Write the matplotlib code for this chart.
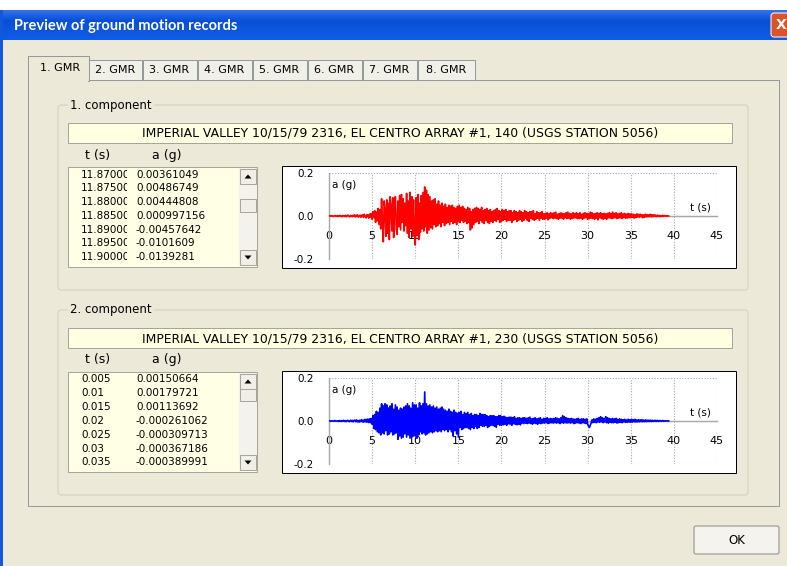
import numpy as np
import matplotlib
matplotlib.use("Agg")
import matplotlib.pyplot as plt
from matplotlib.patches import Rectangle, FancyBboxPatch, Polygon
from matplotlib.transforms import Bbox

# ---------------- data ----------------
DT = 0.1  # s, sampling of the values
# accelerations, in milli-g, one row per second
acc_140_mg = [
    0, 1, -1, 2, 0, -2, 1, 2, -1, 0,
    2, -2, 1, 3, -1, -3, 2, 1, -2, 3,
    -3, 2, 4, -2, -4, 3, 1, -3, 4, -2,
    5, -4, 2, 6, -5, -2, 4, -6, 3, 5,
    -6, 8, -3, -9, 7, 4, -10, 9, -6, 12,
    -15, 20, -8, 25, -30, 18, -22, 35, -40, 30,
    -60, 80, -45, -120, 70, 30, -95, 75, -80, 60,
    -110, 90, 45, -70, 85, -100, 40, 90, -60, -85,
    70, -50, 95, -65, 100, -30, 80, -70, 60, -45,
    105, -80, 70, -100, 110, -60, 90, -95, 75, -70,
    -135, 85, -90, 100, -110, 60, -75, 95, -60, 110,
    -70, 135, -50, 120, -80, 100, -65, 90, -55, 70,
    -60, 75, -40, 80, -50, 55, -45, 70, -35, 50,
    -50, 60, -30, 45, -45, 55, -35, 40, -30, 50,
    -40, 45, -25, 50, -35, 40, -30, 35, -40, 45,
    -25, 50, -30, 40, -20, 45, -30, 35, -25, 30,
    -35, 40, -30, 35, -65, 20, -55, 30, -40, 35,
    -30, 40, -25, 35, -35, 30, -20, 40, -30, 25,
    -35, 30, -20, 35, -30, 25, -35, 30, -25, 20,
    -30, 25, -20, 30, -25, 35, -15, 25, -30, 20,
    -25, 30, -20, 25, -15, 30, -25, 20, -20, 25,
    -20, 25, -30, 15, -20, 25, -15, 20, -25, 15,
    -20, 25, -15, 20, -25, 15, -20, 25, -10, 20,
    -20, 15, -25, 20, -10, 20, -15, 25, -20, 10,
    -15, 20, -10, 15, -20, 15, -10, 20, -15, 10,
    -15, 12, -10, 15, -18, 10, -12, 15, -8, 12,
    -12, 15, -10, 18, -12, 8, -15, 12, -10, 15,
    -10, 12, -15, 10, -8, 15, -12, 18, -10, 12,
    -15, 10, -12, 15, -10, 12, -8, 15, -12, 10,
    -12, 15, -10, 8, -15, 12, -10, 15, -8, 12,
    -15, 10, -12, 18, -10, 15, -12, 10, -15, 12,
    -10, 15, -18, 12, -8, 15, -12, 10, -15, 12,
    -12, 10, -15, 12, -8, 15, -10, 12, -12, 18,
    -10, 12, -8, 15, -12, 10, -10, 12, -8, 15,
    -12, 10, -8, 12, -10, 8, -10, 12, -8, 10,
    -8, 10, -6, 8, -10, 6, -8, 10, -5, 8,
    -6, 8, -4, 6, -8, 5, -6, 8, -4, 6,
    -4, 6, -3, 8, -4, 5, -3, 6, -2, 4,
    -3, 4, -2, 3, -3, 2, -2, 3, -1, 2,
    -1, 2, -1, 1, 0,
]
acc_230_mg = [
    0, 1, -1, 1, 0, -1, 1, 2, -1, 0,
    1, -2, 2, -1, 2, -2, 1, 3, -2, 2,
    -3, 2, 3, -2, -3, 4, -2, 3, -4, 3,
    4, -3, 5, -4, 2, -5, 4, -3, 6, -4,
    -5, 7, -4, 8, -6, 9, -7, 10, -8, 12,
    -15, 25, -35, 30, -40, 45, -50, 40, -55, 60,
    -65, 80, -55, 70, -60, 80, -45, 75, -65, 60,
    -60, 70, -50, 80, -65, 55, -60, 75, -55, 65,
    -85, 50, -70, 60, -80, 55, -75, 65, -60, 70,
    -75, 80, -65, 70, -80, 60, -75, 85, -70, 75,
    -70, 75, -80, 60, -65, 85, -50, 70, -60, 80,
    -55, 135, -65, 80, -60, 70, -55, 75, -50, 65,
    -55, 70, -50, 60, -45, 65, -50, 55, -45, 60,
    -50, 65, -40, 55, -45, 50, -40, 45, -50, 55,
    -40, 45, -50, 40, -70, 50, -45, 40, -60, 35,
    -75, 40, -30, 45, -40, 30, -35, 40, -30, 35,
    -30, 40, -35, 30, -40, 35, -30, 25, -35, 30,
    -25, 30, -35, 25, -30, 35, -20, 30, -25, 30,
    -25, 30, -20, 25, -30, 20, -25, 25, -20, 25,
    -20, 25, -25, 20, -30, 20, -15, 25, -20, 25,
    -20, 20, -18, 22, -15, 18, -20, 15, -12, 18,
    -15, 18, -20, 15, -12, 20, -15, 12, -18, 15,
    -15, 15, -18, 12, -10, 15, -12, 15, -10, 12,
    -12, 15, -10, 18, -12, 10, -15, 12, -10, 15,
    -12, 10, -15, 12, -10, 15, -12, 8, -10, 12,
    -10, 12, -8, 15, -12, 10, -10, 12, -8, 10,
    -10, 12, -8, 15, -10, 12, -8, 10, -12, 15,
    -8, 25, -10, 20, -8, 15, -10, 12, -8, 10,
    -10, 12, -8, 10, -12, 8, -10, 10, -8, 12,
    -10, 8, -12, 10, -8, 10, -10, 8, -12, 10,
    -15, -25, -30, -20, -10, 5, -8, 10, -6, 8,
    -8, 12, -5, 15, -6, 20, -4, 15, -8, 12,
    -5, 20, -8, 15, -10, 12, -6, 10, -8, 12,
    -8, 10, -6, 12, -10, 8, -8, 10, -6, 8,
    -8, 6, -5, 8, -6, 5, -6, 8, -5, 6,
    -6, 8, -5, 6, -4, 8, -5, 5, -4, 6,
    -4, 5, -3, 6, -4, 4, -3, 5, -3, 4,
    -3, 4, -2, 4, -3, 3, -2, 3, -2, 3,
    -2, 3, -2, 2, -1, 2, -1, 2, -1, 1,
    -1, 1, 0, 1, 0,
]
x_ticks = [0, 5, 10, 15, 20, 25, 30, 35, 40, 45]
y_ticks = [-0.2, 0.0, 0.2]
y_tick_labels = ["-0.2", "0.0", "0.2"]

tabs = ["1. GMR", "2. GMR", "3. GMR", "4. GMR", "5. GMR", "6. GMR", "7. GMR", "8. GMR"]
titles = ["IMPERIAL VALLEY 10/15/79 2316, EL CENTRO ARRAY #1, 140 (USGS STATION 5056)",
          "IMPERIAL VALLEY 10/15/79 2316, EL CENTRO ARRAY #1, 230 (USGS STATION 5056)"]
list1_t = ["11.87000", "11.87500", "11.88000", "11.88500", "11.89000", "11.89500", "11.90000"]
list1_a = ["0.00361049", "0.00486749", "0.00444808", "0.000997156", "-0.00457642",
           "-0.0101609", "-0.0139281"]
list2_t = ["0.005", "0.01", "0.015", "0.02", "0.025", "0.03", "0.035"]
list2_a = ["0.00150664", "0.00179721", "0.00113692", "-0.000261062", "-0.000309713",
           "-0.000367186", "-0.000389991"]

# ---------------- figure ----------------
W, H = 787, 566
BG = "#ECE9D8"
UIF = "DejaVu Sans"
fig = plt.figure(figsize=(W / 100, H / 100), dpi=100)
fig.patch.set_facecolor("white")
ui = fig.add_axes([0, 0, 1, 1])
ui.axis("off")

PX = 0.72  # one pixel in points


def rect(x0, y0, x1, y1, fc="none", ec="none", lw=1, z=1):
    ui.add_patch(Rectangle((x0, y0), x1 - x0, y1 - y0, fc=fc, ec=ec, lw=lw * PX, zorder=z))


def rrect(x0, y0, x1, y1, fc="none", ec="none", lw=1, z=1, r=3):
    ui.add_patch(FancyBboxPatch((x0, y0), x1 - x0, y1 - y0,
                                boxstyle=f"round,pad=0,rounding_size={r}",
                                fc=fc, ec=ec, lw=lw * PX, zorder=z))


def txt(x, y, s, size=8, ha="left", va="center", color="black", z=5, **kw):
    return ui.text(x, y, s, fontsize=size, ha=ha, va=va, color=color,
                   family=kw.pop("family", UIF), zorder=z, **kw)


# title bar gradient
grad = np.linspace(0, 1, 30)[:, None]
c_top = np.array([0.20, 0.45, 0.93])
c_mid = np.array([0.03, 0.31, 0.84])
c_bot = np.array([0.07, 0.36, 0.90])
cols = np.where(grad < 0.35, c_top + (c_mid - c_top) * (grad / 0.35),
                c_mid + (c_bot - c_mid) * ((grad - 0.35) / 0.65))
img = np.repeat(cols[:, None, :], 2, axis=1)
ui.imshow(img, extent=(0, W, 40, 10), aspect="auto", zorder=0)
ui.set_xlim(0, W)
ui.set_ylim(H, 0)

rect(3, 40, W, H, fc=BG, z=0.5)
rect(0, 10, 3, H, fc="#1257DC", z=0.6)
txt(14, 26, "Preview of ground motion records", size=10.5, color="white",
    weight="bold", family="Lato")
rrect(771, 13, 790, 37, fc="#D9542B", ec="white", lw=1, z=2, r=3)
txt(781, 25, "X", size=10, ha="center", color="white", weight="bold")

# tab panel
rect(28, 80, 779, 506, fc=BG, ec="#919B9C", lw=1, z=1)
edges = [30, 88, 142, 197, 252, 307, 362, 417, 475]
for i in range(1, 8):
    rect(edges[i] + 1, 60, edges[i + 1], 80, fc="#F1F0E8", ec="#919B9C", lw=1, z=1.2)
rect(28, 56, 89, 81, fc=BG, ec="#919B9C", lw=1, z=1.3)
rect(29, 78, 88, 82, fc=BG, z=1.4)
for i, lab in enumerate(tabs):
    yy = 68 if i == 0 else 70
    txt((edges[i] + edges[i + 1]) / 2 + (1 if i == 0 else 0), yy, lab, ha="center")

# OK button
rrect(694, 526, 779, 554, fc="#F4F3EE", ec="#8A8A80", lw=1, z=2, r=2)
txt(736.5, 540, "OK", size=8.5, ha="center")


def scrollbar(x0, x1, y0, y1, th0, th1):
    rect(x0, y0, x1, y1, fc="#F3F2EC", z=2)
    for (b0, b1) in [(y0 + 1, y0 + 16), (th0, th1), (y1 - 16, y1 - 1)]:
        rect(x0 + 1, b0, x1 - 1, b1, fc="#F0EEE6", ec="#A8A69C", lw=1, z=2.5)
    cx = (x0 + x1) / 2
    ya = y0 + 8.5
    ui.add_patch(Polygon([(cx - 3.5, ya + 2), (cx + 3.5, ya + 2), (cx, ya - 2)],
                         fc="black", ec="none", zorder=3))
    yb = y1 - 8.5
    ui.add_patch(Polygon([(cx - 3.5, yb - 2), (cx + 3.5, yb - 2), (cx, yb + 2)],
                         fc="black", ec="none", zorder=3))


def component(y_off, label, title, lt, la, thumb, ttop, tbot, a_mg, color):
    # group box
    rrect(58, 105 + y_off, 748, 290 + y_off, fc="none", ec="#D0D0BF", lw=1, z=1.5)
    txt(70, 105 + y_off, label, size=8.5, bbox=dict(fc=BG, ec="none", pad=1.5))
    # title box
    rect(68, 123 + y_off, 732, 143 + y_off, fc="#FFFFE1", ec="#A5A59B", lw=1, z=2)
    txt(400, 133.5 + y_off, title, size=8.9, ha="center")
    # headers
    txt(85, 155 + y_off, "t (s)", size=9)
    txt(152, 155 + y_off, "a (g)", size=9)
    # list box
    rect(68, 167 + y_off, 257, 267 + y_off, fc="#FFFFE6", ec="#A5A59B", lw=1, z=2)
    scrollbar(239, 257, 168 + y_off, 266 + y_off, thumb[0] + y_off, thumb[1] + y_off)
    for k, (a, b) in enumerate(zip(lt, la)):
        yy = 174.5 + y_off + k * 13.8
        t1 = txt(81, yy, a, size=7.5, clip_on=True)
        t1.set_clip_box(Bbox.from_extents(70, H - (268 + y_off), 126.5, H - (166 + y_off)))
        txt(136, yy, b, size=7.5)
    # plot box
    rect(282, 166 + y_off, 736, 268 + y_off, fc="white", ec="black", lw=1, z=2)

    ax = fig.add_axes([329 / W, 1 - tbot / H, (717 - 329) / W, (tbot - ttop) / H])
    ax.patch.set_visible(False)
    a_vals = np.array(a_mg) / 1000.0
    t = np.arange(len(a_vals)) * DT
    ax.plot(t, a_vals, color=color, lw=1.2, zorder=3)
    ax.set_xlim(0, 45)
    ax.set_ylim(-0.2, 0.2)
    for s in ["top", "right"]:
        ax.spines[s].set_visible(False)
    ax.spines["bottom"].set_position(("data", 0))
    for s in ["bottom", "left"]:
        ax.spines[s].set_color("#A8A8A8")
        ax.spines[s].set_linewidth(1.0)
    ax.set_xticks(x_ticks)
    ax.set_xticklabels([str(v) for v in x_ticks])
    ax.set_yticks(y_ticks)
    ax.set_yticklabels(y_tick_labels)
    ax.tick_params(axis="x", length=0, labelsize=8, pad=11)
    ax.tick_params(axis="y", length=0, labelsize=7.5, pad=11)
    ax.grid(True, ls=(0, (1, 1.5)), color="#A8A8A8", lw=0.8)
    ax.set_axisbelow(True)
    ax.text(0.35, 0.143, "a (g)", fontsize=7.5, ha="left", va="center")
    ax.text(41.9, 0.04, "t (s)", fontsize=7.5, ha="left", va="center")
    return ax


component(0, "1. component", titles[0], list1_t, list1_a, (199, 212), 173, 259,
          acc_140_mg, "#FF0000")
component(205, "2. component", titles[1], list2_t, list2_a, (184, 196), 378, 464,
          acc_230_mg, "#0000FF")

fig.savefig("out.png", dpi=100)
